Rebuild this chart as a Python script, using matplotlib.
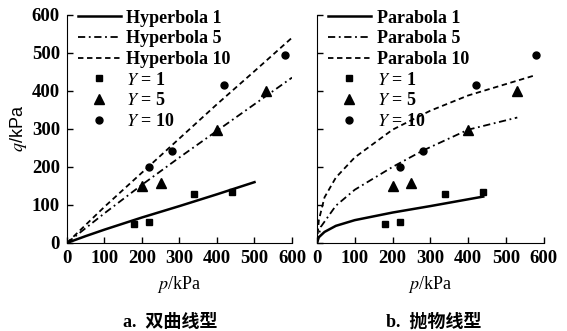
import matplotlib
matplotlib.use("Agg")
import matplotlib.pyplot as plt

plt.rcParams['font.family'] = ['Liberation Serif', 'Noto Sans CJK SC']
plt.rcParams['mathtext.fontset'] = 'stix'

# measured points (same in both panels)
p_y1 = [180, 220, 340, 440]
q_y1 = [50, 55, 130, 135]
p_y5 = [200, 250, 400, 530]
q_y5 = [150, 158, 298, 400]
p_y10 = [220, 280, 420, 580]
q_y10 = [200, 242, 415, 495]

# hyperbola fits
p_h1 = [0, 50, 100, 200, 300, 400, 500]
q_h1 = [0, 18, 35, 67, 97, 128, 160]
p_h5 = [0, 100, 200, 300, 400, 500, 600]
q_h5 = [0, 78, 153, 225, 295, 365, 435]
p_h10 = [0, 100, 200, 300, 400, 500, 600]
q_h10 = [0, 95, 185, 275, 365, 452, 540]

# parabola fits
p_pa1 = [0, 5, 20, 50, 100, 200, 300, 440]
q_pa1 = [0, 15, 29, 45, 60, 80, 97, 122]
p_pa5 = [0, 10, 50, 100, 200, 280, 400, 530]
q_pa5 = [0, 42, 98, 140, 200, 243, 298, 330]
p_pa10 = [0, 5, 20, 50, 100, 200, 300, 400, 580]
q_pa10 = [0, 60, 120, 172, 225, 298, 348, 388, 442]

fig = plt.figure(figsize=(5.67, 3.31), dpi=100)
ax1 = fig.add_axes([0.118, 0.266, 0.397, 0.689])
ax2 = fig.add_axes([0.559, 0.266, 0.400, 0.689])

dash = (0, (3, 2))
dashdot = (0, (4, 2, 1, 2))


def draw(ax, name, curves):
    (pa, qa), (pb, qb), (pc, qc) = curves
    ax.plot(pa, qa, color='black', lw=1.8, ls='-', label=name + ' 1')
    ax.plot(pb, qb, color='black', lw=1.3, ls=dashdot, label=name + ' 5')
    ax.plot(pc, qc, color='black', lw=1.3, ls=dash, label=name + ' 10')
    ax.plot(p_y1, q_y1, 's', color='black', ms=5, ls='none', label='$Y$ = 1')
    ax.plot(p_y5, q_y5, '^', color='black', ms=6.5, ls='none', label='$Y$ = 5')
    ax.plot(p_y10, q_y10, 'o', color='black', ms=5, ls='none', label='$Y$ = 10')
    ax.set_xlim(0, 600)
    ax.set_ylim(0, 600)
    ax.set_xticks(range(0, 601, 100))
    ax.set_yticks(range(0, 601, 100))
    ax.spines['top'].set_visible(False)
    ax.spines['right'].set_visible(False)
    ax.tick_params(direction='in', length=4, labelsize=13.5, width=1, pad=5)
    for lab in ax.get_xticklabels() + ax.get_yticklabels():
        lab.set_fontweight('bold')
    ax.set_xlabel('$p$/kPa', fontsize=13, labelpad=5)
    ax.legend(loc='upper left', bbox_to_anchor=(0.0, 1.07), frameon=False,
              prop={'size': 13, 'weight': 'bold'}, handlelength=2.4,
              labelspacing=0.2, handletextpad=0.3, borderaxespad=0.2)


draw(ax1, 'Hyperbola', [(p_h1, q_h1), (p_h5, q_h5), (p_h10, q_h10)])
draw(ax2, 'Parabola', [(p_pa1, q_pa1), (p_pa5, q_pa5), (p_pa10, q_pa10)])
ax1.set_ylabel('$q$/kPa', fontsize=13, labelpad=2, family='Liberation Sans')
ax2.tick_params(labelleft=False)

fig.text(0.30, 0.012, 'a.  双曲线型', ha='center', fontsize=13, fontweight='bold')
fig.text(0.765, 0.012, 'b.  抛物线型', ha='center', fontsize=13, fontweight='bold')

fig.savefig('out.png', dpi=100)
